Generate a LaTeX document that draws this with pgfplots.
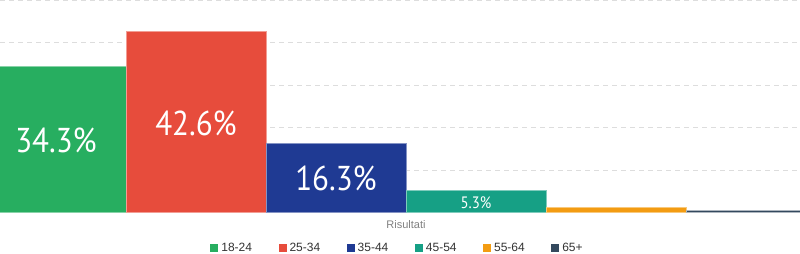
\documentclass[border=0pt]{standalone}
\usepackage{pgfplots}
\pgfplotsset{compat=1.18}
\usepackage{fontspec}
\setmainfont{Liberation Sans}
\newfontfamily\labelfont[FakeStretch=0.9]{PT Sans}
\definecolor{cA}{HTML}{27AE60}
\definecolor{cB}{HTML}{E74C3C}
\definecolor{cC}{HTML}{1F3A93}
\definecolor{cD}{HTML}{16A085}
\definecolor{cE}{HTML}{F39C12}
\definecolor{cF}{HTML}{34495E}
\definecolor{gridc}{HTML}{DDDDDD}
\begin{document}
\begin{tikzpicture}
\begin{axis}[
  width=800pt, height=212.5pt, scale only axis,
  xmin=0, xmax=800, ymin=0, ymax=50,
  ybar, bar width=140,
  axis line style={draw=none},
  tick style={draw=none},
  ytick={10,20,30,40,50}, yticklabels={},
  ymajorgrids,
  grid style={gridc, line width=0.8pt, dash pattern=on 5pt off 4pt},
  extra y ticks={0}, extra y tick labels={},
  extra y tick style={grid style={solid, gridc, line width=1pt}},
  xtick={406}, xticklabels={Risultati},
  xticklabel style={font=\fontsize{11}{13}\selectfont, text=black!50, yshift=0pt},
  point meta=explicit symbolic,
  visualization depends on=rawy \as \rawy,
  every node near coord/.append style={anchor=center, text=white, yshift={-2.125*\rawy-1}},
  legend columns=6,
  legend image code/.code={\draw[#1,/tikz/.cd,draw=none] (0pt,-4pt) rectangle (8pt,4pt);},
  legend style={at={(rel axis cs:0.4975,0)}, anchor=center, yshift=-36pt, draw=none,
    font=\fontsize{12}{14}\selectfont, text=black!80,
    /tikz/every even column/.append style={column sep=23.5pt},
    nodes={inner sep=2pt, inner xsep=3pt}},
]
\addplot[fill=cA, draw=cA!55!white, line width=0.8pt, bar shift=0pt,
  nodes near coords, every node near coord/.append style={font=\labelfont\fontsize{34.5}{36}\selectfont}]
  coordinates {(56,34.3) [34.3\%]};
\addlegendentry{18-24}
\addplot[fill=cB, draw=cB!55!white, line width=0.8pt, bar shift=0pt,
  nodes near coords, every node near coord/.append style={font=\labelfont\fontsize{34.5}{36}\selectfont}]
  coordinates {(196,42.6) [42.6\%]};
\addlegendentry{25-34}
\addplot[fill=cC, draw=cC!55!white, line width=0.8pt, bar shift=0pt,
  nodes near coords, every node near coord/.append style={font=\labelfont\fontsize{34.5}{36}\selectfont}]
  coordinates {(336,16.3) [16.3\%]};
\addlegendentry{35-44}
\addplot[fill=cD, draw=cD!55!white, line width=0.8pt, bar shift=0pt,
  nodes near coords, every node near coord/.append style={font=\labelfont\fontsize{16.5}{18}\selectfont}]
  coordinates {(476,5.3) [5.3\%]};
\addlegendentry{45-54}
\addplot[fill=cE, draw=cE!55!white, line width=0.8pt, bar shift=0pt]
  coordinates {(616,1.1) [1.1\%]};
\addlegendentry{55-64}
\addplot[fill=cF, draw=cF!40!white, line width=0.8pt, bar shift=0pt]
  coordinates {(756,0.4) [0.4\%]};
\addlegendentry{65+}
\end{axis}
\pgfresetboundingbox
\path[use as bounding box] ([yshift=-41.5pt]current axis.south west) rectangle (current axis.north east);
\end{tikzpicture}
\end{document}
